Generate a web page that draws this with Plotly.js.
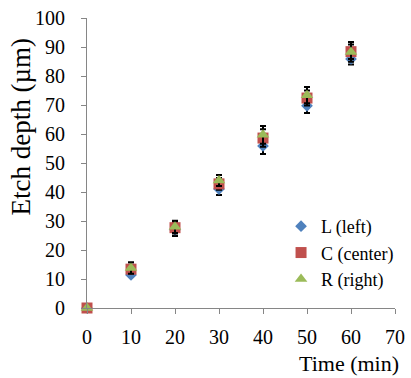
<!DOCTYPE html>
<html>
<head>
<meta charset="utf-8">
<script src="https://cdn.plot.ly/plotly-3.0.1.min.js"></script>
<style>html,body{margin:0;padding:0;background:#fff;}#chart{width:411px;height:378px;}</style>
</head>
<body>
<div id="chart"></div>
<script>
const time = [0, 10, 20, 30, 40, 50, 60];
const depthL = [0, 11.4, 27.0, 41.0, 55.9, 69.7, 85.9];
const depthC = [0, 13.4, 27.7, 42.8, 58.6, 72.4, 88.4];
const depthR = [0, 13.8, 28.0, 44.0, 59.7, 73.4, 88.3];
const errL = [0, 0.6, 2.2, 2.0, 2.8, 2.5, 1.9];
const errC = [0, 1.5, 2.0, 2.0, 3.0, 2.6, 2.5];
const errR = [0, 2.0, 2.1, 1.9, 3.1, 2.8, 3.4];
const names = ["L (left)", "C (center)", "R (right)"];
const colors = ["#4F81BD", "#C0504D", "#9BBB59"];
const symbols = ["diamond", "square", "triangle-up"];
const sizes = [9, 11, 11];
const ys = [depthL, depthC, depthR];
const errs = [errL, errC, errR];
const xTicks = [0, 10, 20, 30, 40, 50, 60, 70];
const yTicks = [0, 10, 20, 30, 40, 50, 60, 70, 80, 90, 100];

const traces = ys.map((y, i) => ({
  type: "scatter",
  mode: "markers",
  x: time,
  y: y,
  name: names[i],
  legendgroup: "g" + i,
  cliponaxis: false,
  marker: {symbol: symbols[i], color: colors[i], size: sizes[i]},
  error_y: {type: "data", array: errs[i], visible: true, color: "#000000", thickness: 2, width: 3}
}));

const font = "Liberation Serif, Times New Roman, serif";
const layout = {
  width: 411, height: 378,
  margin: {l: 87, r: 13, t: 18, b: 70},
  paper_bgcolor: "#ffffff",
  plot_bgcolor: "#ffffff",
  font: {family: font, color: "#000000", size: 20},
  showlegend: true,
  legend: {x: 0.63, y: 0.345, xanchor: "left", yanchor: "top", font: {family: font, size: 18, color: "#000"},
           bgcolor: "rgba(0,0,0,0)", tracegroupgap: 0, itemwidth: 30},
  xaxis: {
    range: [0, 70], tickvals: xTicks, ticktext: xTicks.map(String),
    showgrid: false, zeroline: false, showline: true, linecolor: "#868686", linewidth: 1,
    ticks: "outside", ticklen: 5, tickcolor: "#868686", tickfont: {family: font, size: 20, color: "#000"},
    ticklabelstandoff: 6,
    fixedrange: true
  },
  yaxis: {
    range: [0, 100], tickvals: yTicks, ticktext: yTicks.map(String),
    showgrid: false, zeroline: false, showline: true, linecolor: "#868686", linewidth: 1,
    ticks: "outside", ticklen: 5, tickcolor: "#868686", tickfont: {family: font, size: 20, color: "#000"},
    ticklabelstandoff: 12,
    fixedrange: true
  },
  annotations: [{
    text: "Time (min)", xref: "paper", yref: "paper", x: 1.018, y: -0.19,
    xanchor: "right", yanchor: "middle", showarrow: false, font: {family: font, size: 22, color: "#000"}
  }, {
    text: "Etch depth (µm)", xref: "paper", yref: "paper", x: -0.215, y: 0.625, textangle: -90,
    xanchor: "center", yanchor: "middle", showarrow: false, font: {family: font, size: 27, color: "#000"}
  }]
};
Plotly.newPlot("chart", traces, layout, {displayModeBar: false, staticPlot: true});
</script>
</body>
</html>
